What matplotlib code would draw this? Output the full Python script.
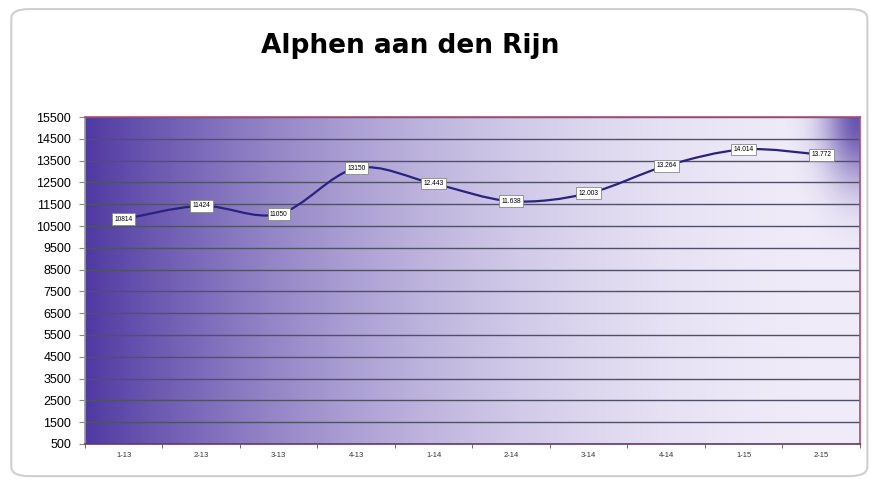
import numpy as np
import matplotlib.pyplot as plt
from matplotlib.path import Path
from matplotlib.patches import PathPatch, FancyBboxPatch

# data
periods = ["1-13", "2-13", "3-13", "4-13", "1-14", "2-14", "3-14", "4-14", "1-15", "2-15"]
values = [10814, 11424, 11050, 13150, 12443, 11638, 12003, 13264, 14014, 13772]
point_labels = ["10814", "11424", "11050", "13150", "12.443", "11.638",
                "12.003", "13.264", "14.014", "13.772"]
yticks = list(range(500, 15501, 1000))

fig = plt.figure(figsize=(8.7, 4.79), dpi=100)
fig.patch.set_facecolor("white")

# rounded chart border
border = FancyBboxPatch((0.013, 0.006), 0.984, 0.975, boxstyle="round,pad=0,rounding_size=0.02",
                        transform=fig.transFigure, facecolor="none", edgecolor="#cfcfcf",
                        linewidth=1.5, zorder=-1)
fig.patches.append(border)

ax = fig.add_axes([0.0977, 0.0731, 0.8908, 0.6826])

# background gradient of the plot area
u = np.linspace(0, 1, 400)
v = np.linspace(0, 1, 200)
U, V = np.meshgrid(u, v)
d = np.clip(1 - U, 0, 1) ** 2.0
corner = 0.85 * np.exp(-((1 - U) / 0.045) ** 2 - ((1 - V) / 0.2) ** 2)
d = np.maximum(d, corner)
dark = np.array([0x50, 0x3a, 0xa2]) / 255
light = np.array([0xf0, 0xec, 0xf9]) / 255
img = light[None, None, :] * (1 - d[..., None]) + dark[None, None, :] * d[..., None]
ax.imshow(img, extent=(0, 1, 0, 1), origin="lower", aspect="auto",
          transform=ax.transAxes, zorder=0, interpolation="bilinear")

x = np.arange(len(periods))
y = np.array(values, dtype=float)

# smoothed line (cubic bezier segments through the points)
verts = [(x[0], y[0])]
codes = [Path.MOVETO]
n = len(x)
for i in range(n - 1):
    p0 = np.array([x[max(i - 1, 0)], y[max(i - 1, 0)]])
    p1 = np.array([x[i], y[i]])
    p2 = np.array([x[i + 1], y[i + 1]])
    p3 = np.array([x[min(i + 2, n - 1)], y[min(i + 2, n - 1)]])
    c1 = p1 + (p2 - p0) / 6
    c2 = p2 - (p3 - p1) / 6
    verts += [tuple(c1), tuple(c2), tuple(p2)]
    codes += [Path.CURVE4] * 3
ax.add_patch(PathPatch(Path(verts, codes), facecolor="none", edgecolor="#2a2280",
                       linewidth=1.6, zorder=3))

for xi, yi, lab in zip(x, y, point_labels):
    ax.text(xi, yi, lab, ha="center", va="center", fontsize=4.8,
            family="Liberation Sans", zorder=4,
            bbox=dict(boxstyle="square,pad=0.35", facecolor="white",
                      edgecolor="#888888", linewidth=0.6))

ax.set_xlim(-0.5, len(periods) - 0.5)
ax.set_ylim(500, 15500)
ax.set_yticks(yticks)
ax.set_yticklabels([str(t) for t in yticks], fontsize=9, family="Liberation Sans")
ax.set_xticks(x)
ax.set_xticklabels(periods, fontsize=5.5, family="Liberation Sans", color="#333333")
ax.set_xticks(np.arange(-0.5, len(periods), 1), minor=True)
ax.tick_params(axis="x", which="major", length=0, pad=6)
ax.tick_params(axis="x", which="minor", length=3, color="#555555")
ax.tick_params(axis="y", length=4, color="#888888", pad=6)

ax.grid(axis="y", color="#505068", linewidth=1.0, zorder=1)
ax.set_axisbelow(False)
for line in ax.get_ygridlines():
    line.set_zorder(1)

ax.spines["left"].set_color("#999999")
ax.spines["top"].set_color("#b04a70")
ax.spines["right"].set_color("#b04a70")
ax.spines["bottom"].set_color("#6a3a5a")
for s in ax.spines.values():
    s.set_linewidth(1.2)
    s.set_zorder(5)

fig.text(0.471, 0.905, "Alphen aan den Rijn", ha="center", va="center",
         fontsize=19, fontweight="bold", family="DejaVu Sans")

fig.savefig("out.png", dpi=100)
